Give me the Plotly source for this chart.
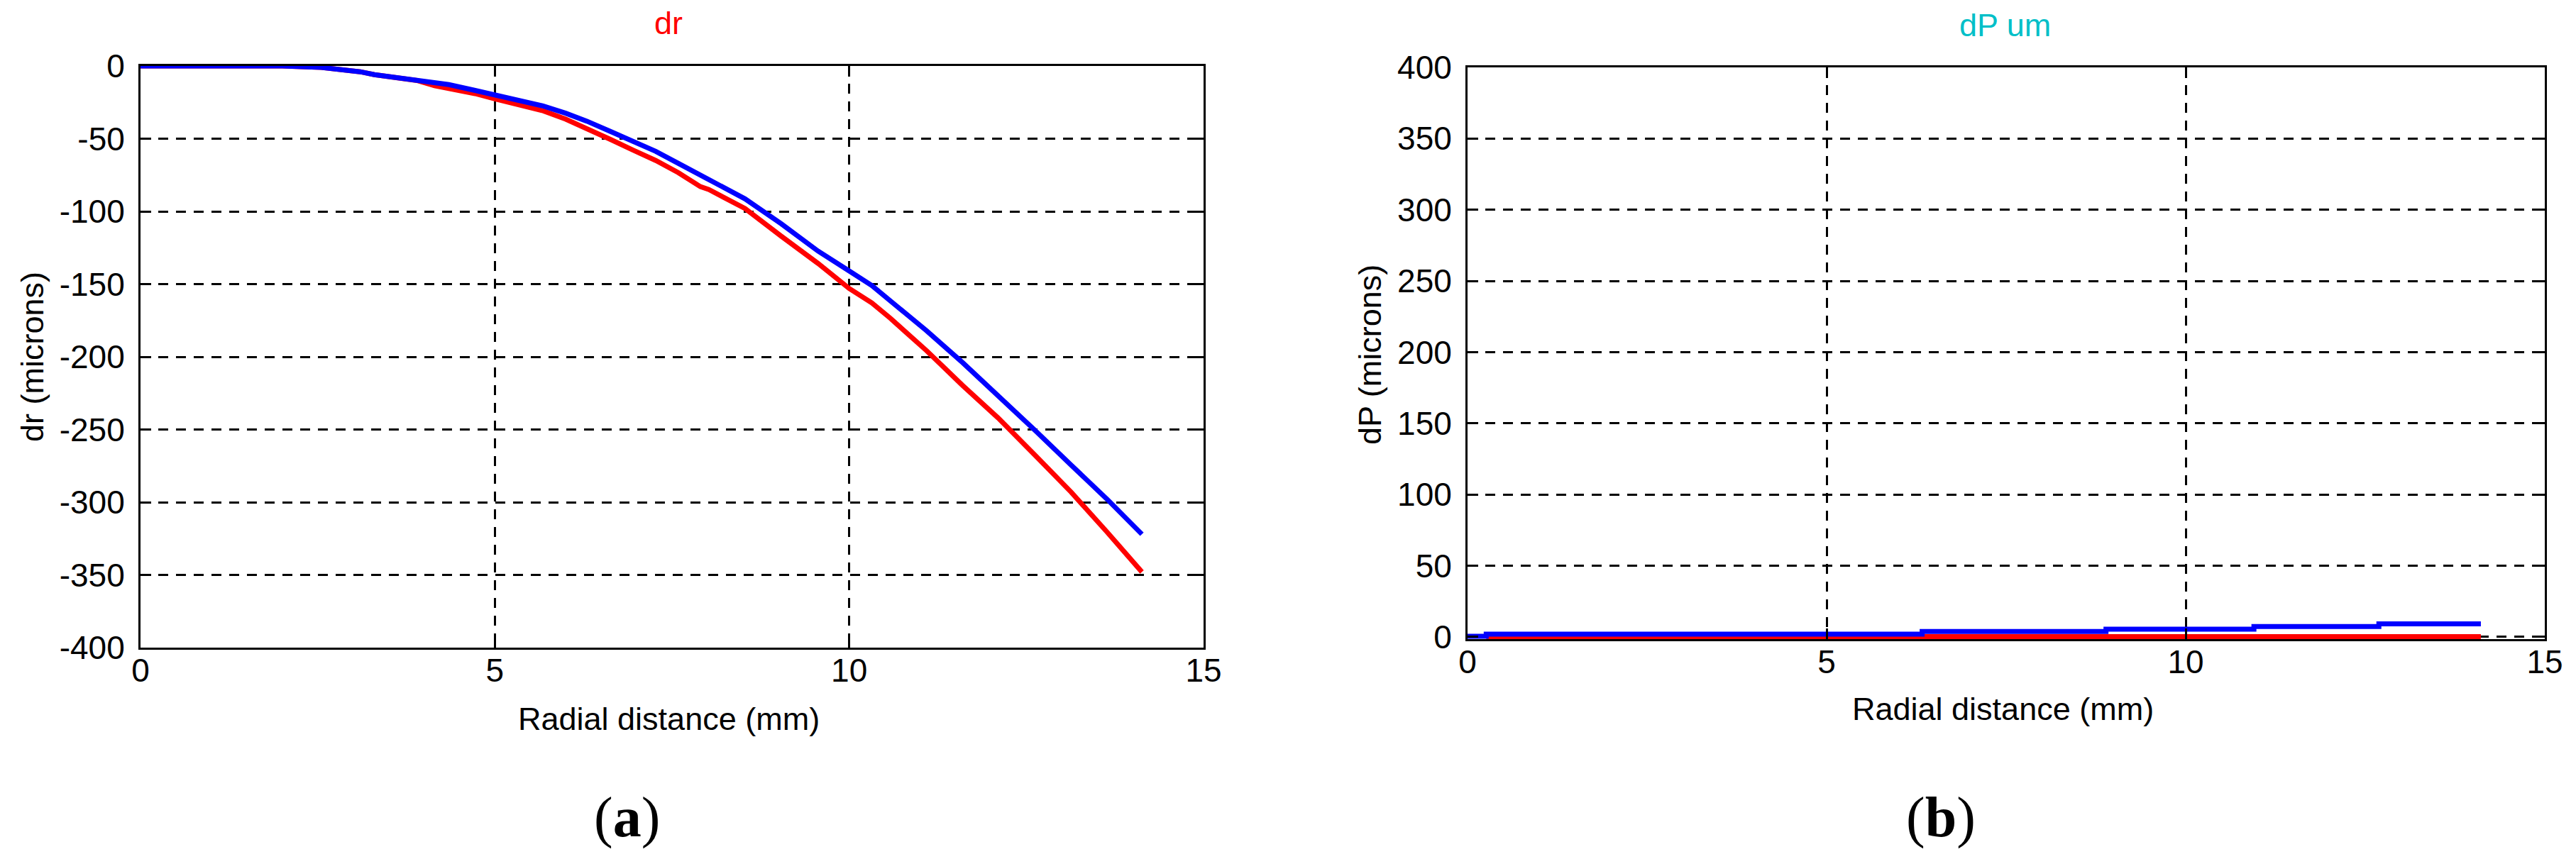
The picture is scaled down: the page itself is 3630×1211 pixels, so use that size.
import plotly.graph_objects as go

# ---------------- data ----------------
# (a) dr vs radial distance
dr_blue_x = [0, 2.0, 2.55, 2.87, 3.1, 3.3, 3.6, 3.9, 4.1, 4.35, 4.7, 5.0, 5.36, 5.68, 6.0, 6.3,
             6.63, 6.95, 7.27, 7.59, 7.9, 8.02, 8.53, 9.04, 9.56, 10.0, 10.32, 10.58, 11.09,
             11.6, 12.1, 12.62, 13.13, 13.64, 14.13]
dr_blue_y = [0, 0, -1, -2.5, -4, -6, -7.7, -9.5, -11, -12.8, -16.6, -20, -24, -27.5, -32.5, -38,
             -45, -52, -58.7, -67, -75, -78, -91.4, -108.5, -127.3, -141, -151, -161.5, -182,
             -204, -226.5, -250.5, -274.4, -298, -322]
dr_red_x = [0, 2.0, 2.55, 2.87, 3.1, 3.3, 3.6, 3.9, 4.15, 4.4, 4.72, 5.0, 5.36, 5.68, 6.0, 6.3,
            6.63, 6.95, 7.27, 7.59, 7.9, 8.02, 8.53, 9.04, 9.56, 10.0, 10.32, 10.58, 11.09,
            11.6, 12.1, 12.62, 13.13, 13.64, 14.13]
dr_red_y = [0, 0, -1, -2.5, -4, -6, -7.7, -10, -13.6, -16, -19, -22.6, -26.7, -30.8, -36.6, -43,
            -50.5, -57.9, -65, -73.4, -83, -85, -98, -117, -135.8, -153, -163, -173.5, -195.7,
            -219.7, -242, -267.6, -293, -320.6, -348]

# (b) dP vs radial distance (stepped)
dp_blue_x = [0, 0.26, 6.33, 8.89, 10.95, 12.69, 14.11]
dp_blue_y = [0.5, 2.0, 3.9, 5.5, 7.3, 9.2, 9.2]
dp_red_x = [0.26, 14.11]
dp_red_y = [0.2, 0.2]

# ticks
x_ticks = [0, 5, 10, 15]
x_ticktext = ["0", "5", "10", "15"]
dr_ticks = [0, -50, -100, -150, -200, -250, -300, -350, -400]
dr_ticktext = ["0", "-50", "-100", "-150", "-200", "-250", "-300", "-350", "-400"]
dp_ticks = [0, 50, 100, 150, 200, 250, 300, 350, 400]
dp_ticktext = ["0", "50", "100", "150", "200", "250", "300", "350", "400"]

# ---------------- layout geometry ----------------
W, H = 3630, 1211
def px_x(p):
    return p / W
def px_y(p):
    return (H - p) / H

FONT = "Liberation Sans, Arial, sans-serif"
TICKFONT = dict(family=FONT, size=46, color="black")
BLUE = "#0000FF"
RED = "#FF0000"
LW = 7

fig = go.Figure()

fig.add_trace(go.Scatter(x=dr_red_x, y=dr_red_y, mode="lines", line=dict(color=RED, width=LW),
                         xaxis="x", yaxis="y", showlegend=False))
fig.add_trace(go.Scatter(x=dr_blue_x, y=dr_blue_y, mode="lines", line=dict(color=BLUE, width=LW),
                         xaxis="x", yaxis="y", showlegend=False))
fig.add_trace(go.Scatter(x=dp_red_x, y=dp_red_y, mode="lines", line=dict(color=RED, width=LW, shape="hv"),
                         xaxis="x2", yaxis="y2", showlegend=False))
fig.add_trace(go.Scatter(x=dp_blue_x, y=dp_blue_y, mode="lines", line=dict(color=BLUE, width=LW, shape="hv"),
                         xaxis="x2", yaxis="y2", showlegend=False))

common = dict(
    showline=True, linecolor="black", linewidth=3, mirror="ticks",
    ticks="inside", ticklen=15, tickwidth=3, tickcolor="black",
    showgrid=True, gridcolor="black", gridwidth=3, griddash="14px,11px",
    zeroline=False, tickfont=TICKFONT, fixedrange=True, automargin=False,
)

fig.update_layout(
    width=W, height=H, autosize=False,
    margin=dict(l=0, r=0, t=0, b=0, pad=0, autoexpand=False),
    paper_bgcolor="white", plot_bgcolor="white",
    showlegend=False,
    xaxis=dict(domain=[px_x(198), px_x(1696)], range=[0, 15], tickvals=x_ticks, ticktext=x_ticktext,
               anchor="y", ticklabelstandoff=-10, **common),
    yaxis=dict(domain=[px_y(913), px_y(93)], range=[-400, 0], tickvals=dr_ticks, ticktext=dr_ticktext,
               anchor="x", ticklabelstandoff=10, **common),
    xaxis2=dict(domain=[px_x(2068), px_x(3586)], range=[0, 15], tickvals=x_ticks, ticktext=x_ticktext,
                anchor="y2", ticklabelstandoff=-10, **common),
    yaxis2=dict(domain=[px_y(901), px_y(95)], range=[-1.5, 400], tickvals=dp_ticks, ticktext=dp_ticktext,
                anchor="x2", ticklabelstandoff=10, **common),
)

def ann(text, x, y, size=45, color="black", angle=0, family=FONT):
    fig.add_annotation(text=text, x=px_x(x), y=px_y(y), xref="paper", yref="paper",
                       showarrow=False, xanchor="center", yanchor="middle", textangle=angle,
                       font=dict(family=family, size=size, color=color))

ann("dr", 942, 33, color=RED)
ann("dP um", 2825, 35, color="#00BFC8")
ann("Radial distance (mm)", 942, 1013)
ann("Radial distance (mm)", 2822, 999)
ann("dr (microns)", 45, 503, angle=-90)
ann("dP (microns)", 1930, 500, angle=-90)
ann("(<b>a</b>)", 883, 1152, size=80, family="Liberation Serif, Times New Roman, serif")
ann("(<b>b</b>)", 2735, 1152, size=80, family="Liberation Serif, Times New Roman, serif")

fig.write_html(
    "out.html",
    config={"displayModeBar": False},
    post_script="document.body.style.margin='0';document.body.style.overflow='hidden';",
)
